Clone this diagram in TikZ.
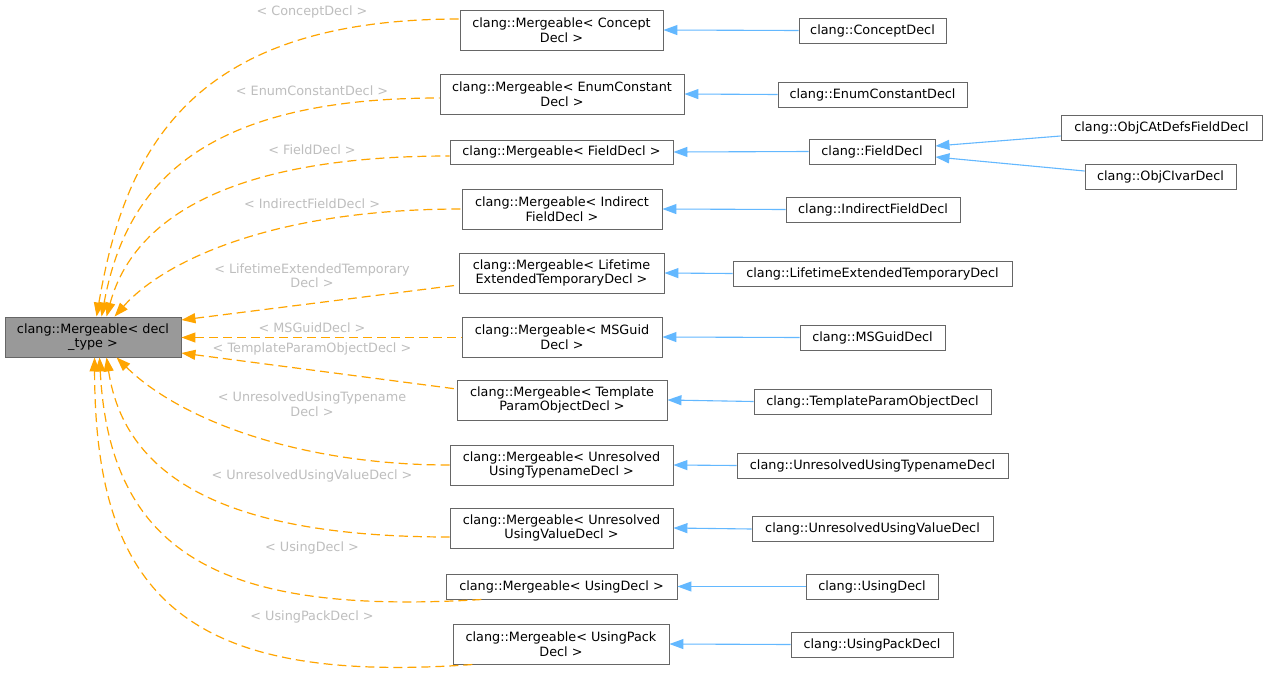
\documentclass[tikz,border=0pt]{standalone}
\usepackage{fontspec}
\setmainfont{DejaVu Sans}
\usetikzlibrary{arrows.meta}
\definecolor{edgeorange}{HTML}{FFA500}
\definecolor{edgeblue}{HTML}{63B8FF}
\definecolor{boxline}{HTML}{666666}
\definecolor{basefill}{HTML}{999999}
\definecolor{lblgray}{HTML}{BEBEBE}
\begin{document}
\begin{tikzpicture}[x=1pt,y=-1pt,
  box/.style={draw=boxline, line width=0.9pt, fill=white, inner sep=0pt, align=center,
    font=\fontsize{12.8}{14.5}\selectfont},
  lbl/.style={text=lblgray, inner sep=0pt, align=center, font=\fontsize{12.8}{14.5}\selectfont},
  dep/.style={draw=edgeorange, line width=1.2pt, dash pattern=on 9pt off 5pt,
    {Triangle[length=14pt,width=10pt]}-},
  inh/.style={draw=edgeblue, line width=1.1pt, {Triangle[length=14pt,width=10pt]}-}]
\fill[white] (0,0) rectangle (1267,678);
\useasboundingbox (0,0) rectangle (1267,678);

% base node
\node[box, fill=basefill, minimum width=176pt, minimum height=40pt] (base) at (93,337) {clang::Mergeable< decl\\\_type >};

% middle nodes
\node[box, minimum width=203pt, minimum height=40pt] (m1) at (561.5,30) {clang::Mergeable< Concept\\Decl >};
\node[box, minimum width=244pt, minimum height=40pt] (m2) at (562,94) {clang::Mergeable< EnumConstant\\Decl >};
\node[box, minimum width=223pt, minimum height=24pt] (m3) at (561.5,152) {clang::Mergeable< FieldDecl >};
\node[box, minimum width=200pt, minimum height=40pt] (m4) at (562,209) {clang::Mergeable< Indirect\\FieldDecl >};
\node[box, minimum width=205pt, minimum height=40pt] (m5) at (561.5,273) {clang::Mergeable< Lifetime\\ExtendedTemporaryDecl >};
\node[box, minimum width=200pt, minimum height=40pt] (m6) at (562,337) {clang::Mergeable< MSGuid\\Decl >};
\node[box, minimum width=210pt, minimum height=40pt] (m7) at (562,400) {clang::Mergeable< Template\\ParamObjectDecl >};
\node[box, minimum width=223pt, minimum height=40pt] (m8) at (561.5,465) {clang::Mergeable< Unresolved\\UsingTypenameDecl >};
\node[box, minimum width=223pt, minimum height=40pt] (m9) at (561.5,528) {clang::Mergeable< Unresolved\\UsingValueDecl >};
\node[box, minimum width=231pt, minimum height=25pt] (m10) at (561.5,586.5) {clang::Mergeable< UsingDecl >};
\node[box, minimum width=216pt, minimum height=40pt] (m11) at (561,644) {clang::Mergeable< UsingPack\\Decl >};

% right nodes
\node[box, minimum width=147pt, minimum height=25pt] (r1) at (872.5,30.5) {clang::ConceptDecl};
\node[box, minimum width=189pt, minimum height=25pt] (r2) at (872.5,94.5) {clang::EnumConstantDecl};
\node[box, minimum width=126pt, minimum height=25pt] (r3) at (872,151.5) {clang::FieldDecl};
\node[box, minimum width=201pt, minimum height=25pt] (r3a) at (1161.5,127.5) {clang::ObjCAtDefsFieldDecl};
\node[box, minimum width=151pt, minimum height=25pt] (r3b) at (1160.5,176.5) {clang::ObjCIvarDecl};
\node[box, minimum width=174pt, minimum height=25pt] (r4) at (873,209.5) {clang::IndirectFieldDecl};
\node[box, minimum width=279pt, minimum height=25pt] (r5) at (872.5,273.5) {clang::LifetimeExtendedTemporaryDecl};
\node[box, minimum width=145pt, minimum height=25pt] (r6) at (872.5,337.5) {clang::MSGuidDecl};
\node[box, minimum width=237pt, minimum height=25pt] (r7) at (872.5,401.5) {clang::TemplateParamObjectDecl};
\node[box, minimum width=271pt, minimum height=25pt] (r8) at (872.5,465.5) {clang::UnresolvedUsingTypenameDecl};
\node[box, minimum width=241pt, minimum height=25pt] (r9) at (872.5,529) {clang::UnresolvedUsingValueDecl};
\node[box, minimum width=132pt, minimum height=25pt] (r10) at (872,586.5) {clang::UsingDecl};
\node[box, minimum width=162pt, minimum height=25pt] (r11) at (872,644.5) {clang::UsingPackDecl};

% edge labels
\node[lbl] (l1) at (312,11.5) {< ConceptDecl >};
\node[lbl] (l2) at (312,91) {< EnumConstantDecl >};
\node[lbl] (l3) at (312,150) {< FieldDecl >};
\node[lbl] (l4) at (312,204) {< IndirectFieldDecl >};
\node[lbl] (l5) at (312,275.5) {< LifetimeExtendedTemporary\\Decl >};
\node[lbl] (l6) at (312,328) {< MSGuidDecl >};
\node[lbl] (l7) at (312,349) {< TemplateParamObjectDecl >};
\node[lbl] (l8) at (312,404) {< UnresolvedUsingTypename\\Decl >};
\node[lbl] (l9) at (312,475.5) {< UnresolvedUsingValueDecl >};
\node[lbl] (l10) at (312,547.5) {< UsingDecl >};
\node[lbl] (l11) at (312,616.5) {< UsingPackDecl >};

% template instantiation edges (orange dashed)
\draw[dep] ([xshift=92pt]base.north west) .. controls (125,150) and (190,19) .. ([yshift=11pt]m1.west);
\draw[dep] ([xshift=97pt]base.north west) .. controls (125,190) and (195,98) .. ([yshift=-4pt]m2.west);
\draw[dep] ([xshift=102pt]base.north west) .. controls (130,230) and (210,156) .. ([yshift=-4pt]m3.west);
\draw[dep] ([xshift=110pt]base.north west) .. controls (160,265) and (265,209) .. (m4.west);
\draw[dep] ([yshift=17pt]base.east) -- ([yshift=-12pt]m5.west);
\draw[dep] ([yshift=-0.5pt]base.east) -- ([yshift=-0.5pt]m6.west);
\draw[dep] ([yshift=-16pt]base.east) -- ([yshift=11pt]m7.west);
\draw[dep] ([xshift=112pt]base.south west) .. controls (180,420) and (300,465) .. (m8.west);
\draw[dep] ([xshift=102pt]base.south west) .. controls (125,480) and (230,537) .. ([yshift=-9pt]m9.west);
\draw[dep] ([xshift=95pt]base.south west) .. controls (110,560) and (230,615) .. ([xshift=37pt]m10.south west);
\draw[dep] ([xshift=90pt]base.south west) .. controls (95,600) and (190,685) .. ([xshift=21pt]m11.south west);

% inheritance edges (blue)
\draw[inh] (m1.east) -- (r1.west);
\draw[inh] (m2.east) -- (r2.west);
\draw[inh] (m3.east) -- (r3.west);
\draw[inh] ([yshift=5.5pt]r3.east) -- ([yshift=-8.5pt]r3a.west);
\draw[inh] ([yshift=-5.5pt]r3.east) -- ([yshift=5.5pt]r3b.west);
\draw[inh] (m4.east) -- (r4.west);
\draw[inh] (m5.east) -- (r5.west);
\draw[inh] (m6.east) -- (r6.west);
\draw[inh] (m7.east) -- (r7.west);
\draw[inh] (m8.east) -- (r8.west);
\draw[inh] (m9.east) -- (r9.west);
\draw[inh] (m10.east) -- (r10.west);
\draw[inh] (m11.east) -- (r11.west);
\end{tikzpicture}
\end{document}
